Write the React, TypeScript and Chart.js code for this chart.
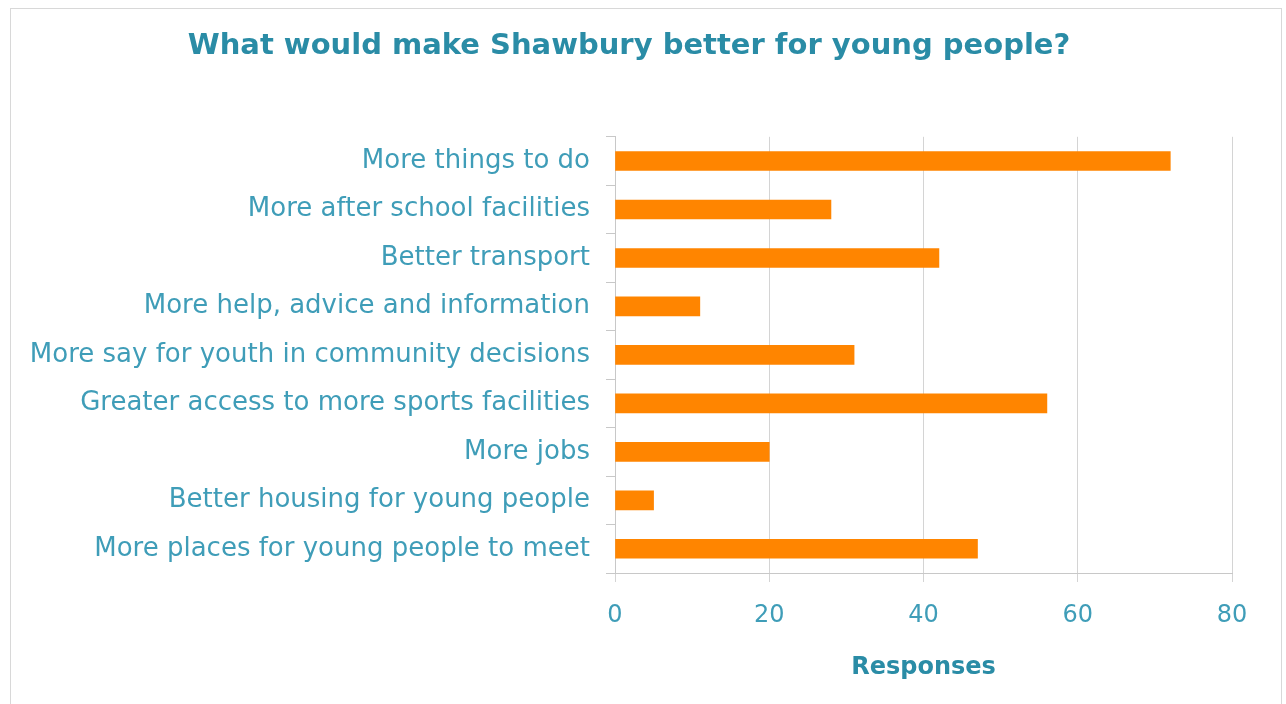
import React, { useEffect, useRef } from "react";
import { Chart, registerables } from "chart.js";

Chart.register(...registerables);

const categories = [
  "More things to do",
  "More after school facilities",
  "Better transport",
  "More help, advice and information",
  "More say for youth in community decisions",
  "Greater access to more sports facilities",
  "More jobs",
  "Better housing for young people",
  "More places for young people to meet",
];
const responses = [72, 28, 42, 11, 31, 56, 20, 5, 47];
const titleText = "What would make Shawbury better for young people?";
const xAxisTitle = "Responses";
const xMin = 0;
const xMax = 80;
const xStep = 20;

const FONT = "'DejaVu Sans', Verdana, sans-serif";
const TEXT = "#3f9db8";
const TITLE = "#2a8ca6";

export default function App() {
  const ref = useRef<HTMLCanvasElement | null>(null);
  useEffect(() => {
    if (!ref.current) return;
    const chart = new Chart(ref.current, {
      type: "bar",
      data: {
        labels: categories,
        datasets: [
          {
            label: xAxisTitle,
            data: responses,
            backgroundColor: "#ff8500",
            borderWidth: 0,
            barThickness: 19,
          },
        ],
      },
      options: {
        indexAxis: "y",
        responsive: false,
        animation: false,
        layout: { padding: { left: 26, right: 54, top: 0, bottom: 0 } },
        plugins: {
          legend: { display: false },
          tooltip: { enabled: false },
          title: {
            display: true,
            text: titleText,
            color: TITLE,
            font: { family: FONT, size: 29, weight: "bold" },
            padding: { top: 29, bottom: 73 },
          },
        },
        scales: {
          y: {
            offset: true,
            grid: {
              offset: true,
              drawOnChartArea: false,
              drawTicks: true,
              tickLength: 9,
              color: "#c8c8c8",
            },
            border: { display: true, color: "#c8c8c8" },
            ticks: {
              color: TEXT,
              font: { family: FONT, size: 26 },
              padding: 16,
            },
            afterFit: (scale: any) => {
              scale.width = 589;
            },
          },
          x: {
            min: xMin,
            max: xMax,
            grid: {
              color: "#d4d4d4",
              drawTicks: true,
              tickLength: 9,
            },
            border: { display: true, color: "#c8c8c8" },
            ticks: {
              stepSize: xStep,
              color: TEXT,
              font: { family: FONT, size: 24 },
              padding: 19,
            },
            title: {
              display: true,
              text: xAxisTitle,
              color: TITLE,
              font: { family: FONT, size: 24, weight: "bold" },
              padding: { top: 0, bottom: 22 },
            },
            afterFit: (scale: any) => {
              scale.height = 131;
            },
          },
        },
      },
    });
    return () => chart.destroy();
  }, []);

  return (
    <div style={{ position: "fixed", left: 0, top: 0, width: 1286, height: 704, background: "#fff" }}>
      <div
        style={{
          position: "absolute",
          left: 10,
          top: 8,
          width: 1272,
          height: 700,
          border: "1px solid #d8d8d8",
          boxSizing: "border-box",
        }}
      />
      <canvas ref={ref} width={1286} height={704} style={{ position: "absolute", left: 0, top: 0 }} />
    </div>
  );
}
